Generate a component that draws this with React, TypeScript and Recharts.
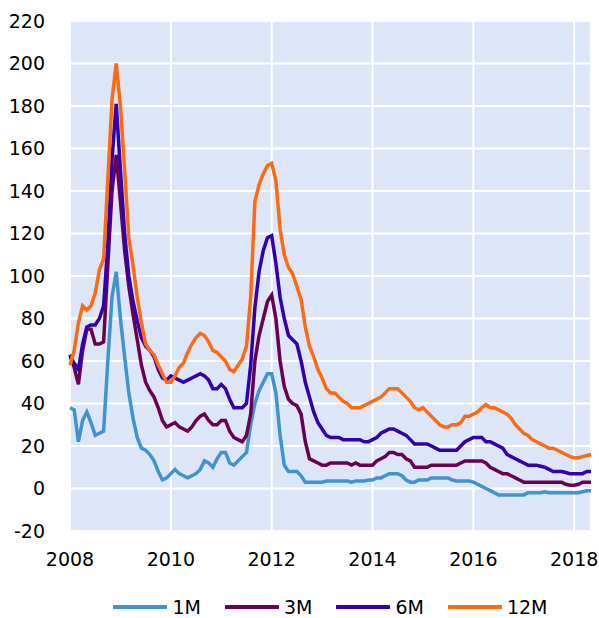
import { LineChart, Line, XAxis, YAxis, CartesianGrid, Legend } from "recharts";

// monthly observations, Jan 2008 .. May 2018
const m1 = [
  38, 37, 22, 32, 36, 31, 25, 26, 27, 60, 90, 102, 80, 62, 45, 33, 24, 19, 18, 16,
  13, 8, 4, 5, 7, 9, 7, 6, 5, 6, 7, 9, 13, 12, 10, 14, 17, 17, 12, 11,
  13, 15, 17, 30, 40, 46, 50, 54, 54, 45, 25, 11, 8, 8, 8, 6, 3, 3, 3, 3,
  3, 3.5, 3.5, 3.5, 3.5, 3.5, 3.5, 3, 3.5, 3.5, 3.5, 4, 4, 5, 5, 6, 7, 7, 7, 6,
  4, 3, 3, 4, 4, 4, 5, 5, 5, 5, 5, 4, 3.5, 3.5, 3.5, 3.5, 3, 2, 1, 0,
  -1, -2, -3, -3, -3, -3, -3, -3, -3, -2, -2, -2, -2, -1.5, -2, -2, -2, -2, -2, -2,
  -2, -2, -1.5, -1, -1,
];
const m3 = [
  63, 57, 49, 65, 75, 75, 68, 68, 69, 105, 140, 157, 135, 112, 95, 82, 70, 58, 50, 46,
  43, 38, 32, 29, 30, 31, 29, 28, 27, 29, 32, 34, 35, 32, 30, 30, 32, 32, 27, 24,
  23, 22, 25, 35, 60, 72, 80, 88, 91, 80, 60, 48, 42, 40, 39, 35, 22, 14, 13, 12,
  11, 11, 12, 12, 12, 12, 12, 11, 12, 11, 11, 11, 11, 13, 14, 15, 17, 17, 16, 16,
  14, 13, 10, 10, 10, 10, 11, 11, 11, 11, 11, 11, 11, 12, 13, 13, 13, 13, 13, 12,
  10, 9, 8, 7, 7, 6, 5, 4, 3, 3, 3, 3, 3, 3, 3, 3, 3, 3, 2, 1.5,
  1.5, 2, 3, 3, 3,
];
const m6 = [
  62, 59, 56, 68, 76, 77, 77, 80, 86, 115, 155, 181, 150, 120, 100, 88, 79, 71, 67, 65,
  62, 56, 52, 51, 53, 52, 51, 50, 51, 52, 53, 54, 53, 51, 47, 47, 49, 47, 42, 38,
  38, 38, 40, 58, 85, 102, 112, 118, 119, 106, 90, 80, 72, 70, 68, 60, 50, 43, 36, 31,
  28, 25, 24, 24, 24, 23, 23, 23, 23, 23, 22, 22, 23, 24, 26, 27, 28, 28, 27, 26,
  25, 23, 21, 21, 21, 21, 20, 19, 18, 18, 18, 18, 18, 20, 22, 23, 24, 24, 24, 22,
  22, 21, 20, 19, 16, 15, 14, 13, 12, 11, 11, 11, 10.5, 10, 9, 8, 8, 8, 7.5, 7,
  7, 7, 7, 8, 8,
];
const m12 = [
  58, 65, 78, 86, 84, 86, 92, 103, 108, 145, 183, 200, 180, 150, 118, 105, 90, 78, 68, 65,
  63, 58, 54, 50, 50, 53, 57, 59, 64, 68, 71, 73, 72, 69, 65, 64, 62, 60, 56, 55,
  58, 61, 67, 90, 135, 143, 148, 152, 153, 145, 122, 110, 104, 101, 95, 89, 76, 67, 62, 56,
  52, 47, 45, 45, 43, 41, 40, 38, 38, 38, 39, 40, 41, 42, 43, 45, 47, 47, 47, 45,
  43, 41, 38, 37, 38, 36, 34, 32, 30, 29, 29, 30, 30, 31, 34, 34, 35, 36, 38, 39.5,
  38, 38, 37, 36, 35, 33, 30, 28, 26, 25, 23, 22, 21, 20, 19, 19, 18, 17, 16, 15,
  14.5, 14.5, 15, 15.5, 16,
];

const xTicks = [2008, 2010, 2012, 2014, 2016, 2018];
const yTicks = [-20, 0, 20, 40, 60, 80, 100, 120, 140, 160, 180, 200, 220];

const series = [
  { key: "1M", color: "#3f94d0" },
  { key: "3M", color: "#6b0050" },
  { key: "6M", color: "#3300b0" },
  { key: "12M", color: "#ff6a10" },
];

const data = m1.map((v, i) => ({
  t: 2008 + i / 12,
  "1M": v,
  "3M": m3[i],
  "6M": m6[i],
  "12M": m12[i],
}));

const font = "'DejaVu Sans', sans-serif";

function LegendRow() {
  return (
    <div style={{ display: "flex", justifyContent: "center", alignItems: "center", height: 26, transform: "translateY(2px)", fontFamily: font, fontSize: 19, lineHeight: "22px", color: "#000" }}>
      {series.map((s) => (
        <div key={s.key} style={{ display: "flex", alignItems: "center", marginLeft: 12, marginRight: 12 }}>
          <svg width={54} height={6}>
            <line x1={1} y1={3} x2={53} y2={3} stroke={s.color} strokeWidth={4} strokeLinecap="round" />
          </svg>
          <span style={{ marginLeft: 5 }}>{s.key}</span>
        </div>
      ))}
    </div>
  );
}

export default function App() {
  return (
    <div style={{ position: "absolute", left: 0, top: 0 }}>
      <LineChart width={599} height={618} data={data} margin={{ top: 21, right: 8, bottom: 0, left: 0 }}>
        <CartesianGrid fill="#dce6f8" horizontal={false} vertical={false} />
        <CartesianGrid stroke="#ffffff" strokeWidth={2} strokeOpacity={1} />
        <XAxis
          dataKey="t"
          type="number"
          domain={[2008, 2008 + 124 / 12]}
          ticks={xTicks}
          height={61}
          axisLine={false}
          tickLine={false}
          tickSize={0}
          tickMargin={22}
          tick={{ fill: "#000", fontSize: 19, fontFamily: font }}
        />
        <YAxis
          domain={[-20, 220]}
          ticks={yTicks}
          width={70}
          axisLine={false}
          tickLine={false}
          tickSize={0}
          tickMargin={25}
          interval={0}
          tick={{ fill: "#000", fontSize: 19, fontFamily: font }}
        />
        <Legend
          verticalAlign="bottom"
          height={26}
          wrapperStyle={{ left: 70, width: 521 }}
          content={() => <LegendRow />}
        />
        {series.map((s) => (
          <Line
            key={s.key}
            type="linear"
            dataKey={s.key}
            stroke={s.color}
            strokeWidth={3.5}
            dot={false}
            isAnimationActive={false}
          />
        ))}
      </LineChart>
    </div>
  );
}
